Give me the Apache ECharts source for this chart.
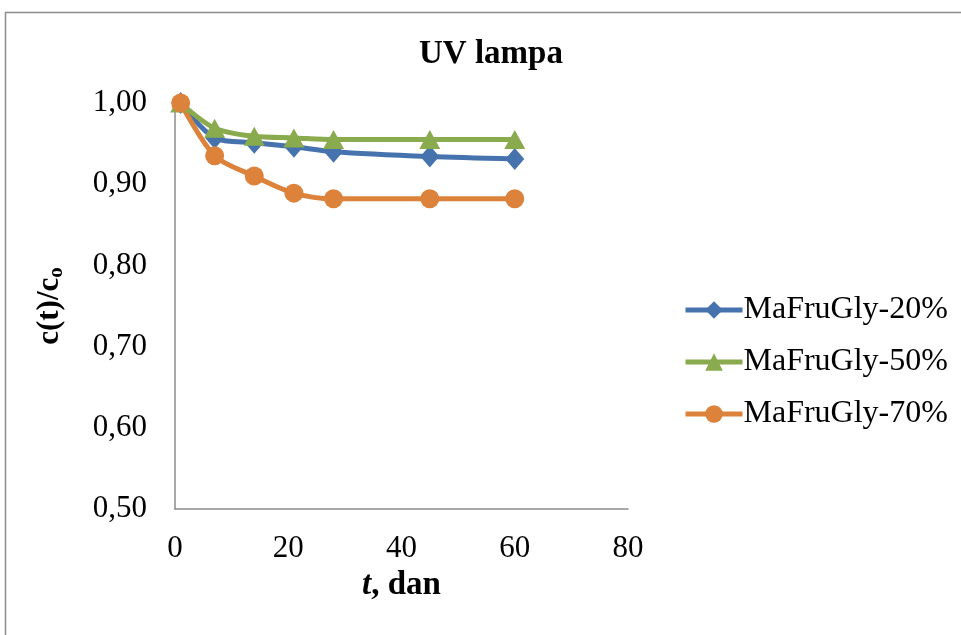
<!DOCTYPE html>
<html><head><meta charset="utf-8">
<script src="https://cdn.jsdelivr.net/npm/echarts@6/dist/echarts.min.js"></script>
<style>html,body{margin:0;padding:0;background:#fff}#c{width:961px;height:635px}</style>
</head><body><div id="c"></div>
<script>
var days = [1, 7, 14, 21, 28, 45, 60];
var s20 = [1.000, 0.957, 0.951, 0.946, 0.940, 0.934, 0.931];
var s50 = [1.000, 0.969, 0.959, 0.957, 0.955, 0.955, 0.955];
var s70 = [1.000, 0.935, 0.910, 0.889, 0.882, 0.882, 0.882];
var names = ['MaFruGly-20%', 'MaFruGly-50%', 'MaFruGly-70%'];
var colors = ['#4673AE', '#8AAA4E', '#DD823A'];
function pairs(v){ return days.map(function(d,i){ return [d, v[i]]; }); }
var font = 'Liberation Serif';
var chart = echarts.init(document.getElementById('c'));
chart.setOption({
  animation: false,
  backgroundColor: '#fff',
  graphic: [{type:'rect', shape:{x:5.5, y:12.5, width:1000, height:700}, style:{fill:'none', stroke:'#8c8c8c', lineWidth:1.5}}],
  title: {text:'UV lampa', left:486, textAlign:'center', top:33, textStyle:{fontFamily:font, fontSize:33, fontWeight:'bold', color:'#000'}},
  grid: {left:175, right:333, top:103, bottom:126},
  legend: {orient:'vertical', left:683, top:289, padding:[5,0,5,0], itemWidth:57, itemHeight:22, itemGap:20,
    lineStyle:{width:5},
    textStyle:{fontFamily:font, fontSize:32, color:'#000', padding:[0,0,0,-4]},
    data: names},
  xAxis: {type:'value', min:0, max:80, interval:20,
    axisLine:{lineStyle:{color:'#8c8c8c', width:1.5}}, axisTick:{show:false}, splitLine:{show:false},
    axisLabel:{fontFamily:font, fontSize:31, color:'#000', margin:24},
    name:'{i|t}{b|, dan}', nameLocation:'middle', nameGap:60,
    nameTextStyle:{rich:{i:{fontFamily:font, fontSize:33, fontWeight:'bold', fontStyle:'italic', color:'#000'}, b:{fontFamily:font, fontSize:33, fontWeight:'bold', color:'#000'}}}},
  yAxis: {type:'value', min:0.5, max:1.0, interval:0.1,
    axisLine:{show:true, lineStyle:{color:'#8c8c8c', width:1.5}}, axisTick:{show:false}, splitLine:{show:false},
    axisLabel:{fontFamily:font, fontSize:31, color:'#000', margin:28, formatter:function(v){return v.toFixed(2).replace('.', ',');}},
    name:'{b|c(t)/c}{s|o}', nameLocation:'middle', nameGap:108, nameRotate:90,
    nameTextStyle:{rich:{b:{fontFamily:font, fontSize:31, fontWeight:'bold', color:'#000'}, s:{fontFamily:font, fontSize:21, fontWeight:'bold', color:'#000', verticalAlign:'bottom', padding:[14,0,0,0]}}}},
  series: [
    {name:names[0], type:'line', smooth:0.3, data:pairs(s20), symbol:'diamond', symbolSize:[19,22], color:colors[0], lineStyle:{width:5, color:colors[0]}, itemStyle:{color:colors[0]}},
    {name:names[1], type:'line', smooth:0.3, data:pairs(s50), symbol:'triangle', symbolSize:[21,19], color:colors[1], lineStyle:{width:5, color:colors[1]}, itemStyle:{color:colors[1]}},
    {name:names[2], type:'line', smooth:0.3, data:pairs(s70), symbol:'circle', symbolSize:19, color:colors[2], lineStyle:{width:5, color:colors[2]}, itemStyle:{color:colors[2]}}
  ]
});
</script></body></html>
